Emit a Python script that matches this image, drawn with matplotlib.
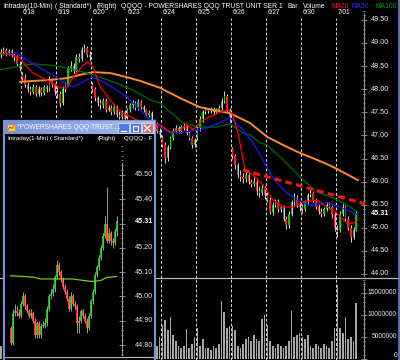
import numpy as np
import matplotlib
matplotlib.use("Agg")
import matplotlib.pyplot as plt
from matplotlib.patches import Rectangle
from matplotlib.ticker import MultipleLocator
from matplotlib.colors import LinearSegmentedColormap

plt.rcParams['font.family'] = ['Liberation Sans', 'DejaVu Sans']

# ---------------- 10-min chart (QQQQ) ----------------
days = ['6/17', '6/18', '6/19', '6/20', '6/23', '6/24', '6/25', '6/26', '6/27', '6/30', '7/01']
day_sizes = [8, 13, 13, 13, 13, 13, 13, 13, 13, 13, 8]
day_opens = [48.75, 48.30, 47.95, 48.10, 47.40, 46.95, 46.95, 46.70, 45.70, 45.45, 44.90]

closes = [
    48.80, 48.85, 48.78, 48.82, 48.75, 48.70, 48.55, 48.45,
    48.25, 48.10, 48.00, 47.95, 48.05, 47.90, 48.00, 47.92, 48.05, 48.00, 48.20, 48.10, 47.95,
    47.90, 47.70, 48.00, 48.10, 48.45, 48.50, 48.40, 48.70, 48.65, 48.85, 48.90, 48.75, 48.70,
    48.00, 47.80, 47.70, 47.65, 47.75, 47.55, 47.60, 47.50, 47.62, 47.45, 47.40, 47.50, 47.35,
    47.55, 47.65, 47.70, 47.60, 47.72, 47.62, 47.55, 47.45, 47.48, 47.30, 47.25, 47.10, 47.00,
    46.80, 46.50, 46.75, 46.95, 47.10, 47.15, 47.10, 47.18, 47.20, 47.05, 46.95, 46.80, 46.90,
    47.15, 47.35, 47.50, 47.55, 47.52, 47.58, 47.50, 47.55, 47.60, 47.75, 47.85, 47.55, 47.40,
    46.55, 46.35, 46.15, 46.10, 46.05, 46.15, 46.00, 45.95, 46.00, 45.80, 45.75, 45.85, 45.70,
    45.60, 45.35, 45.50, 45.55, 45.40, 45.45, 45.20, 45.05, 45.30, 45.55, 45.65, 45.50, 45.45,
    45.40, 45.55, 45.70, 45.75, 45.60, 45.45, 45.35, 45.30, 45.40, 45.50, 45.45, 45.30, 45.00,
    44.95, 45.30, 45.45, 45.20, 45.00, 44.80, 44.95, 45.31,
]
highs = [
    48.88, 48.92, 48.90, 48.88, 48.86, 48.80, 48.74, 48.60,
    48.38, 48.32, 48.16, 48.06, 48.12, 48.10, 48.06, 48.05, 48.10, 48.10, 48.28, 48.24, 48.14,
    48.05, 47.96, 48.06, 48.16, 48.50, 48.60, 48.56, 48.76, 48.78, 48.92, 48.98, 48.94, 48.82,
    48.15, 48.05, 47.86, 47.78, 47.80, 47.80, 47.66, 47.65, 47.68, 47.66, 47.52, 47.55, 47.54,
    47.60, 47.70, 47.76, 47.75, 47.78, 47.76, 47.66, 47.58, 47.54, 47.52, 47.35, 47.28, 47.15,
    47.00, 46.86, 46.80, 46.98, 47.16, 47.22, 47.20, 47.22, 47.26, 47.24, 47.10, 46.98, 46.95,
    47.20, 47.42, 47.56, 47.62, 47.60, 47.62, 47.62, 47.60, 47.66, 47.80, 47.96, 47.90, 47.60,
    46.74, 46.60, 46.40, 46.25, 46.18, 46.22, 46.20, 46.06, 46.10, 46.06, 45.90, 45.92, 45.90,
    45.78, 45.66, 45.56, 45.62, 45.62, 45.50, 45.50, 45.26, 45.36, 45.60, 45.76, 45.70, 45.58,
    45.52, 45.60, 45.76, 45.86, 45.80, 45.65, 45.52, 45.42, 45.46, 45.56, 45.56, 45.50, 45.35,
    45.05, 45.36, 45.56, 45.50, 45.26, 45.05, 45.02, 45.38,
]
lows = [
    48.68, 48.74, 48.72, 48.74, 48.70, 48.62, 48.50, 48.40,
    48.18, 48.05, 47.94, 47.88, 47.90, 47.85, 47.86, 47.86, 47.88, 47.94, 47.96, 48.04, 47.88,
    47.82, 47.62, 47.66, 47.95, 48.06, 48.40, 48.35, 48.36, 48.58, 48.60, 48.80, 48.70, 48.62,
    47.94, 47.74, 47.64, 47.58, 47.60, 47.50, 47.52, 47.44, 47.46, 47.40, 47.35, 47.36, 47.30,
    47.35, 47.50, 47.60, 47.55, 47.56, 47.58, 47.50, 47.40, 47.40, 47.25, 47.18, 47.05, 46.94,
    46.74, 46.40, 46.45, 46.70, 46.90, 47.05, 47.05, 47.06, 47.12, 47.00, 46.90, 46.72, 46.74,
    46.90, 47.10, 47.30, 47.46, 47.48, 47.48, 47.45, 47.46, 47.50, 47.56, 47.70, 47.50, 47.30,
    46.48, 46.28, 46.08, 46.02, 45.98, 46.00, 45.94, 45.88, 45.90, 45.72, 45.66, 45.70, 45.62,
    45.55, 45.30, 45.28, 45.44, 45.34, 45.35, 45.15, 44.98, 45.00, 45.25, 45.50, 45.44, 45.36,
    45.32, 45.36, 45.50, 45.66, 45.55, 45.40, 45.30, 45.24, 45.26, 45.36, 45.40, 45.22, 44.92,
    44.80, 44.90, 45.25, 45.15, 44.95, 44.70, 44.76, 44.92,
]
# volume, millions of shares
volumes = [
    3, 2.5, 3, 3.5, 4, 5, 6, 7,
    7, 5, 4, 3, 2.5, 3, 2.5, 3, 3, 4, 5, 6, 7.5,
    7, 5, 3.5, 3, 3, 2.5, 3, 3, 3.5, 4, 5, 6, 7,
    8, 6, 4, 3, 3, 2.5, 2.5, 3, 3, 3.5, 4.5, 6, 7.5,
    6, 4, 3, 2.5, 2, 2, 2.5, 3, 3, 3.5, 4, 3, 5,
    7.7, 8.8, 6.5, 9.5, 5.5, 4, 3, 2.5, 3, 6.8, 2.5, 3.5, 5,
    7, 3, 4.5, 2.5, 2.5, 2, 3, 2.5, 3.5, 13.2, 10.7, 7, 7.5,
    7.5, 6.5, 3, 2.5, 3.5, 4.5, 5, 4, 5.5, 4.5, 4, 9, 10,
    7.7, 4, 3, 2.5, 3.5, 3, 2.5, 3, 4, 11, 5, 5.5, 6,
    5, 4.5, 5.5, 3, 2.5, 3.5, 3, 2.5, 3.5, 3, 2.5, 4, 7,
    16.8, 7, 6, 9.5, 4.5, 5, 4, 12.7,
]

# moving averages (time in trading days from 6/18 open)
ma20_t = [-0.6, -0.23, -0.03, 0.17, 0.34, 0.63, 0.91, 1.11, 1.31, 1.49, 1.77, 1.91, 2.06, 2.26,
          2.54, 2.83, 3.03, 3.31, 3.6, 3.97, 4.26, 4.54, 4.74, 4.91, 5.2, 5.6, 5.91, 6.03, 6.2,
          6.4, 6.63, 6.91, 7.2, 7.49, 7.77, 8.06, 8.46, 8.74, 9.03, 9.31, 9.49, 9.63]
ma20_p = [48.78, 48.74, 48.68, 48.48, 48.35, 48.24, 48.13, 48.03, 48.03, 48.26, 48.52, 48.59,
          48.48, 48.05, 47.77, 47.51, 47.44, 47.33, 47.29, 47.23, 47.07, 47.12, 47.23, 47.12,
          47.33, 47.48, 47.55, 47.48, 47.05, 46.25, 46.14, 45.93, 45.60, 45.45, 45.45, 45.56,
          45.60, 45.45, 45.32, 45.10, 45.10, 45.17]
ma50_t = [-0.51, -0.11, 0.17, 0.54, 0.91, 1.31, 1.49, 1.77, 2.03, 2.26, 2.63, 3.03, 3.4, 3.69,
          4.26, 4.63, 5.11, 5.6, 5.97, 6.34, 6.63, 6.91, 7.11, 7.31, 7.6, 7.89, 8.26, 8.74,
          9.11, 9.63]
ma50_p = [48.76, 48.78, 48.63, 48.46, 48.31, 48.09, 48.05, 48.16, 48.26, 48.20, 48.03, 47.83,
          47.55, 47.33, 47.05, 47.07, 47.12, 47.25, 47.38, 47.12, 46.84, 46.47, 46.19, 45.97,
          45.75, 45.60, 45.49, 45.54, 45.45, 45.28]
ma100_t = [-0.6, -0.03, 0.34, 0.83, 1.31, 1.77, 2.06, 2.74, 3.2, 3.69, 3.97, 4.63, 5.11, 5.6,
           5.97, 6.34, 6.54, 6.83, 7.03, 7.49, 7.97, 8.46, 8.91, 9.4, 9.63]
ma100_p = [48.42, 48.50, 48.55, 48.52, 48.46, 48.37, 48.31, 48.13, 47.98, 47.77, 47.70, 47.27,
           47.18, 47.18, 47.25, 47.05, 47.01, 46.84, 46.79, 46.47, 46.10, 45.77, 45.65, 45.45,
           45.34]
ma200_t = [-0.03, 0.83, 1.31, 1.69, 2.06, 2.54, 3.03, 3.4, 3.97, 4.54, 5.11, 5.97, 6.54, 7.03,
           7.49, 7.97, 8.46, 8.91, 9.63]
ma200_p = [48.16, 48.20, 48.24, 48.31, 48.37, 48.35, 48.26, 48.18, 48.03, 47.81, 47.61, 47.48,
           47.27, 46.97, 46.79, 46.62, 46.47, 46.32, 46.03]
trend_t = [6.34, 9.83]
trend_p = [46.25, 45.52]

price_ticks = [44.0, 44.5, 45.0, 45.5, 46.0, 46.5, 47.0, 47.5, 48.0, 48.5, 49.0, 49.5]
volume_ticks = [0, 5, 10, 15]

# ---------------- 1-min chart (inset window) ----------------
first_open_1m = 44.87
closes_1m = [44.81, 44.93, 44.94, 44.93, 44.92, 44.97, 45.00, 44.96, 44.94, 44.92,
             44.93, 44.90, 44.84, 44.89, 44.84, 44.88, 44.88, 44.89, 44.95, 45.00,
             45.01, 45.03, 45.08, 45.13, 45.10, 45.07, 45.04, 45.02, 44.99, 44.95,
             45.00, 44.97, 44.96, 44.89, 44.90, 44.94, 44.92, 44.90, 44.87, 44.92,
             44.98, 45.02, 45.09, 45.12, 45.16, 45.20, 45.25, 45.30, 45.23, 45.26,
             45.23, 45.22, 45.27, 45.31]
highs_1m = [44.88, 44.95, 44.97, 44.96, 44.95, 44.98, 45.02, 45.01, 44.97, 44.95,
            44.95, 44.94, 44.91, 44.90, 44.90, 44.89, 44.90, 44.91, 44.96, 45.01,
            45.03, 45.05, 45.09, 45.15, 45.14, 45.11, 45.08, 45.05, 45.03, 45.00,
            45.02, 45.01, 44.98, 44.97, 44.92, 44.95, 44.95, 44.93, 44.91, 44.93,
            44.99, 45.03, 45.10, 45.13, 45.17, 45.21, 45.26, 45.33, 45.45, 45.28,
            45.27, 45.24, 45.28, 45.33]
lows_1m = [44.80, 44.80, 44.92, 44.92, 44.91, 44.91, 44.96, 44.95, 44.93, 44.91,
           44.91, 44.89, 44.83, 44.83, 44.83, 44.83, 44.87, 44.87, 44.88, 44.94,
           44.99, 45.00, 45.02, 45.07, 45.09, 45.06, 45.03, 45.01, 44.98, 44.94,
           44.94, 44.96, 44.95, 44.85, 44.85, 44.89, 44.91, 44.89, 44.85, 44.86,
           44.91, 44.97, 45.01, 45.08, 45.11, 45.15, 45.19, 45.24, 45.22, 45.22,
           45.21, 45.20, 45.21, 45.25]
ma_1m_x = [0, 11, 15, 31, 40, 45, 48, 53]
ma_1m_p = [45.085, 45.080, 45.072, 45.072, 45.062, 45.065, 45.078, 45.082]
ticks_1m = [44.8, 44.9, 45.0, 45.1, 45.2, 45.3, 45.4, 45.5]
labels_1m = [44.8, 44.9, 45.0, 45.1, 45.2, 45.4, 45.5]  # 45.30 sits under the last-price tag

W, H = 400, 360
fig = plt.figure(figsize=(4, 3.6), dpi=100, facecolor='black')


def px_axes(x0, y0, x1, y1, **kw):
    return fig.add_axes([x0 / W, 1 - y1 / H, (x1 - x0) / W, (y1 - y0) / H], **kw)


# bar times
t = []
for d, n in enumerate(day_sizes):
    start = 13 - n if d == 0 else 0
    for s in range(start, start + n):
        t.append(d - 1 + (s + 0.5) / 13)
t = np.array(t)
c = np.array(closes)
o = np.r_[np.nan, c[:-1]]
first_idx = np.cumsum([0] + day_sizes[:-1])
o[first_idx] = day_opens

ax = px_axes(0, 10, 364, 278)
axv = px_axes(0, 278, 364, 360)
for a in (ax, axv):
    a.set_facecolor('black')
    a.set_xlim(-0.6, 9.8)
    a.set_xticks([])
    for s in ('left', 'top', 'bottom'):
        a.spines[s].set_visible(False)
    a.spines['right'].set_color('#9a9a9a')
    a.yaxis.tick_right()
    a.tick_params(axis='y', which='both', colors='#9a9a9a', labelright=False,
                  direction='inout', width=0.6)
    a.tick_params(axis='y', which='major', length=4)
    a.tick_params(axis='y', which='minor', length=2)
ax.set_ylim(44 - 4 / 46.2, 44 + 264 / 46.2)
axv.set_ylim(-1 / 4.4, 81 / 4.4)
ax.spines['right'].set_bounds(43.95, 49.62)
axv.spines['right'].set_bounds(0, 17.5)
ax.set_yticks(price_ticks)
ax.yaxis.set_minor_locator(MultipleLocator(0.1))
axv.set_yticks(volume_ticks)
axv.yaxis.set_minor_locator(MultipleLocator(1))

# day separators and labels
for k in range(1, len(days)):
    ax.axvline(k - 1, ymax=0.97, color='#d8d8d8', lw=0.7, ls=(0, (3, 2)), zorder=1)
    axv.axvline(k - 1, color='#d8d8d8', lw=0.7, ls=(0, (3, 2)), zorder=1)
    ax.text(k - 1 + 0.06, 0.9925, days[k], transform=ax.get_xaxis_transform(),
            color='white', fontsize=4.7, va='center', ha='left')

# candles
ax.vlines(t, lows, highs, color='#d6d6d6', lw=0.7, zorder=2)
up = c >= o
body = np.maximum(np.abs(c - o), 0.012)
ax.bar(t[up], body[up], bottom=np.minimum(o, c)[up], width=0.04, color='#00d000', zorder=3)
ax.bar(t[~up], body[~up], bottom=np.minimum(o, c)[~up], width=0.04, color='#ff1a1a', zorder=3)

ax.plot(ma200_t, ma200_p, color='#ff8a2a', lw=1.4, zorder=4)
ax.plot(ma100_t, ma100_p, color='#006a00', lw=0.9, zorder=4)
ax.plot(ma50_t, ma50_p, color='#1a1aff', lw=0.9, zorder=4)
ax.plot(ma20_t, ma20_p, color='#ff0000', lw=0.9, zorder=4)
ax.plot(trend_t, trend_p, color='#ff1010', lw=2.2, ls=(0, (2.2, 1.4)), zorder=5, clip_on=False)

for v in price_ticks:
    ax.text(1.019, v, f'{v:.2f}', transform=ax.get_yaxis_transform(), color='#e6e6e6',
            fontsize=5.2, va='center', ha='left')
ax.text(1.019, closes[-1], f'{closes[-1]:.2f}', transform=ax.get_yaxis_transform(),
        color='white', fontsize=5.2, va='center', ha='left', fontweight='bold')

axv.bar(t, volumes, width=0.045, color='#a6a6a6', zorder=2)
for v in volume_ticks:
    axv.text(1.0907, v, f'{int(v * 1000000)}', transform=axv.get_yaxis_transform(),
             color='#e6e6e6', fontsize=4.8, va='bottom' if v == 0 else 'center', ha='right')

# header of the main window
head = [(3, 'Intraday(10-Min)', 'white'), (55, '( Standard*)', 'white'),
        (97, '(Right)', 'white'), (121, 'QQQQ - POWERSHARES QQQ TRUST UNIT SER 1', 'white'),
        (288, 'Bar', 'white'), (303, 'Volume', 'white'), (331, 'MA20', '#ff1a1a'),
        (352, 'MA50', '#2a2aff'), (375, 'MA100', '#00a000')]
for x, s, col in head:
    fig.text(x / W, 1 - 6 / H, s, color=col, fontsize=4.85, va='center', ha='left')

# ---------------- overlay: separators and inset window chrome ----------------
ov = px_axes(0, 0, 400, 360, zorder=1)
ov.patch.set_alpha(0)
ov.plot([0, 398], [278, 278], color='#b4b4b4', lw=0.9)
ov.plot([399, 399], [0, 360], color='#6d86c9', lw=1.2)
ov.add_patch(Rectangle((3.5, 120.5), 151.5, 245, facecolor='black', edgecolor='#7890d8',
                       lw=1.6, zorder=3))
grad = LinearSegmentedColormap.from_list('tb', ['#7890da', '#a9bbef'])
ov.imshow(np.linspace(0, 1, 64)[None, :], cmap=grad, extent=(4.5, 154.5, 134, 121),
          aspect='auto', zorder=4)
ov.add_patch(Rectangle((7, 124), 8, 7, facecolor='#f3d060', edgecolor='#d08a20', lw=0.5, zorder=5))
ov.plot([8, 10, 12, 14], [130, 127, 128.5, 125.5], color='#d04010', lw=0.6, zorder=6)
ov.text(17, 127.8, '*POWERSHARES QQQ TRUST ...', color='white', fontsize=4.8,
        va='center', ha='left', zorder=6)
for bx, col in ((118, '#5077e4'), (130, '#5077e4'), (142, '#c97474')):
    ov.add_patch(Rectangle((bx, 123), 10.5, 10, facecolor=col, edgecolor='#e8ecf8',
                           lw=0.5, zorder=5))
ov.plot([120.5, 125.5], [130.5, 130.5], color='white', lw=1.0, zorder=6)
ov.add_patch(Rectangle((132.5, 125.5), 5.5, 5.5, facecolor='none', edgecolor='white',
                       lw=0.8, zorder=6))
ov.plot([144.5, 150], [125.5, 131], color='white', lw=0.9, zorder=6)
ov.plot([144.5, 150], [131, 125.5], color='white', lw=0.9, zorder=6)
for x, s in ((7, 'Intraday(1-Min)'), (50, '( Standard*)'), (98, '(Right)'), (124, 'QQQQ - F')):
    ov.text(x, 138.5, s, color='white', fontsize=4.4, va='center', ha='left', zorder=6)
ov.plot([5, 152.5], [357, 357], color='#b4b4b4', lw=0.9, zorder=6)
ov.set_xlim(0, 400)
ov.set_ylim(360, 0)
ov.axis('off')

# ---------------- inset 1-min chart ----------------
ins = px_axes(5, 145, 122, 357, zorder=2)
ins.set_facecolor('black')
ins.set_xlim(-2.75, 55.75)
ins.set_ylim(45.50 - 182 / 242.9, 45.50 + 30 / 242.9)
ins.set_xticks([])
for s in ('left', 'top', 'bottom'):
    ins.spines[s].set_visible(False)
ins.spines['right'].set_color('#9a9a9a')
ins.spines['right'].set_bounds(44.76, 45.55)
ins.yaxis.tick_right()
ins.set_yticks(ticks_1m)
ins.yaxis.set_minor_locator(MultipleLocator(0.02))
ins.tick_params(axis='y', which='both', colors='#9a9a9a', labelright=False,
                direction='inout', width=0.6)
ins.tick_params(axis='y', which='major', length=4)
ins.tick_params(axis='y', which='minor', length=2)

x1 = np.arange(len(closes_1m))
c1 = np.array(closes_1m)
o1 = np.r_[first_open_1m, c1[:-1]]
ins.vlines(x1, lows_1m, highs_1m, color='#9c9c9c', lw=0.7, zorder=2)
up1 = c1 >= o1
b1 = np.maximum(np.abs(c1 - o1), 0.004)
ins.bar(x1[up1], b1[up1], bottom=np.minimum(o1, c1)[up1], width=0.6, color='#1fb31f', zorder=3)
ins.bar(x1[~up1], b1[~up1], bottom=np.minimum(o1, c1)[~up1], width=0.6, color='#ff2a2a', zorder=3)
ins.plot(ma_1m_x, ma_1m_p, color='#7ccc10', lw=0.9, zorder=4)
for v in labels_1m:
    ins.text(1.111, v, f'{v:.2f}', transform=ins.get_yaxis_transform(), color='#e6e6e6',
             fontsize=5.2, va='center', ha='left')
ins.text(1.111, closes_1m[-1], f'{closes_1m[-1]:.2f}', transform=ins.get_yaxis_transform(),
         color='white', fontsize=5.2, va='center', ha='left', fontweight='bold')

fig.savefig('out.png', dpi=100, facecolor='black')
